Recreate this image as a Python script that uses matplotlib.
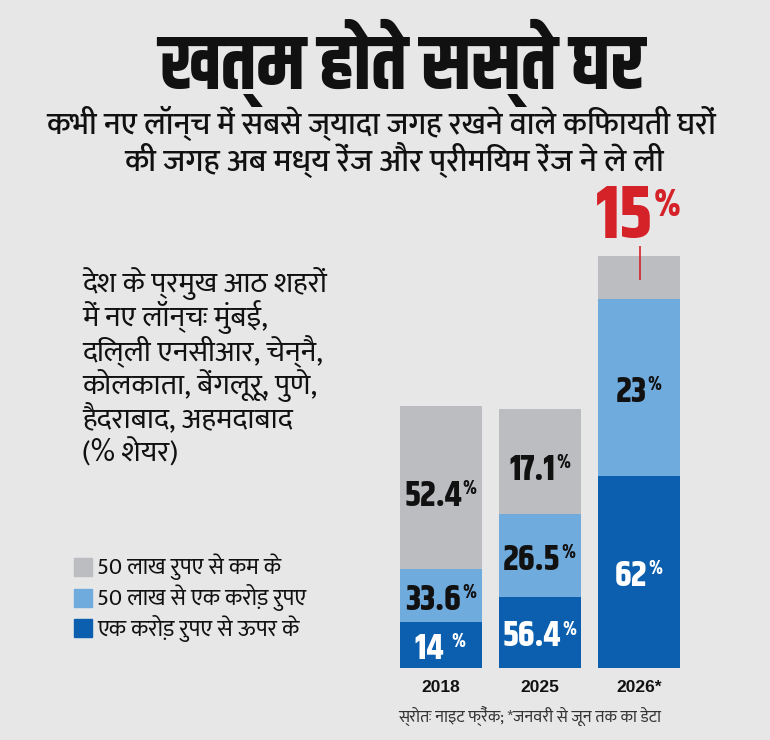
import matplotlib
matplotlib.use('Agg')
import matplotlib.pyplot as plt
from matplotlib import font_manager as fm
from matplotlib.transforms import IdentityTransform
import numpy as np

# ---------------- data ----------------
years = ["2018", "2025", "2026*"]
# visual segment heights as drawn in the graphic (arbitrary units)
high_heights = [46, 71, 192]     # एक करोड़ रुपए से ऊपर के
mid_heights = [53, 83, 177]      # 50 लाख से एक करोड़ रुपए
low_heights = [163, 105, 43]     # 50 लाख रुपए से कम के
# share labels (%)
high_pct = ["14 ", "56.4", "62"]
mid_pct = ["33.6", "26.5", "23"]
low_pct = ["52.4", "17.1", "15"]
legend_labels = ["50 लाख रुपए से कम के", "50 लाख से एक करोड़ रुपए", "एक करोड़ रुपए से ऊपर के"]

title = "खत्म होते सस्ते घर"
subtitle1 = "कभी नए लॉन्च में सबसे ज्यादा जगह रखने वाले किफायती घरों"
subtitle2 = "की जगह अब मध्य रेंज और प्रीमियम रेंज ने ले ली"
note_lines = ["देश के प्रमुख आठ शहरों", "में नए लॉन्चः मुंबई,", "दिल्ली एनसीआर, चेन्नै,",
              "कोलकाता, बेंगलूरू, पुणे,", "हैदराबाद, अहमदाबाद", "(% शेयर)"]
source = "स्रोतः नाइट फ्रैंक; *जनवरी से जून तक का डेटा"

# ---------------- style ----------------
BG = "#e7e7e8"
C_LOW = "#bcbdc0"
C_MID = "#70abde"
C_HIGH = "#0b5fae"
RED = "#d52229"

paths = {}
for f in fm.findSystemFonts():
    paths[f.split('/')[-1]] = f

def fp(name, fallback="Mukta-Regular.ttf"):
    p = paths.get(name) or paths.get(fallback)
    if p:
        return fm.FontProperties(fname=p)
    return fm.FontProperties(family="DejaVu Sans")

F_TITLE = fp("Khand-Bold.ttf")
F_SUB = fp("Mukta-Medium.ttf")
F_NUM = fp("Khand-Bold.ttf")
F_LEG = fp("Mukta-Regular.ttf")
F_NOTE = fp("Mukta-Regular.ttf")
F_SRC = fp("Mukta-Regular.ttf")
F_YEAR = fm.FontProperties(family="Liberation Sans", weight="bold")

W, H = 770, 740
fig = plt.figure(figsize=(7.7, 7.4), dpi=100, facecolor=BG)
renderer = fig.canvas.get_renderer()

def ftext(xpx, ypx, s, prop, size=12, target_w=None, ha='left', va='center', color='#111111'):
    t = fig.text(xpx / W, 1 - ypx / H, s, fontproperties=prop.copy(), ha=ha, va=va, color=color)
    t.set_fontsize(size)
    if target_w:
        bb = t.get_window_extent(renderer)
        t.set_fontsize(size * target_w / bb.width)
    return t

# titles
ftext(402, 63, title, F_TITLE, size=40, target_w=485, ha='center')
ftext(381, 123, subtitle1, F_SUB, size=18, target_w=667, ha='center')
ftext(394, 160, subtitle2, F_SUB, size=18, target_w=535, ha='center')

# note block
first = ftext(82, 283, note_lines[0], F_NOTE, size=15, target_w=244, ha='left')
nsize = first.get_fontsize()
for i, line in enumerate(note_lines[1:], start=1):
    ftext(82, 283 + i * 34.2, line, F_NOTE, size=nsize, ha='left')

# legend
lsize = None
for i, (lab, col) in enumerate(zip(legend_labels, [C_LOW, C_MID, C_HIGH])):
    y = 567 + i * 30.5
    fig.patches.append(plt.Rectangle((74 / W, 1 - (y + 9) / H), 18 / W, 18 / H,
                                     transform=fig.transFigure, color=col, figure=fig))
    if lsize is None:
        t = ftext(97, y, lab, F_LEG, size=13, target_w=185, ha='left')
        lsize = t.get_fontsize()
    else:
        ftext(97, y, lab, F_LEG, size=lsize, ha='left')

# ---------------- bars ----------------
ax = fig.add_axes([371.7 / W, 1 - 668 / H, (708.3 - 371.7) / W, (668 - 240) / H])
ax.set_facecolor('none')
ax.set_xlim(-0.7, 2.7)
ax.set_ylim(0, 428)
ax.axis('off')
x = np.arange(len(years))
hi = np.array(high_heights, float)
mi = np.array(mid_heights, float)
lo = np.array(low_heights, float)
bw = 82 / 99
ax.bar(x, hi, width=bw, color=C_HIGH)
ax.bar(x, mi, bottom=hi, width=bw, color=C_MID)
ax.bar(x, lo, bottom=hi + mi, width=bw, color=C_LOW)

def pct_label(xc, yc, num, color, size, psize):
    t = ax.text(xc, yc, num, ha='center', va='center', fontproperties=F_NUM.copy(), color=color)
    t.set_fontsize(size)
    p = ax.text(xc, yc, '%', ha='left', va='top', fontproperties=F_NUM.copy(), color=color)
    p.set_fontsize(psize)
    pb = p.get_window_extent(renderer)
    shift = pb.width / 2 + 1
    xd, yd = ax.transData.transform((xc, yc))
    t.set_transform(IdentityTransform())
    t.set_position((xd - shift, yd))
    bb = t.get_window_extent(renderer)
    cap_top = yd + size * 0.62 * 100 / 72 / 2 * 1.05
    p.set_transform(IdentityTransform())
    p.set_position((bb.x1 + 1, cap_top + 4))
    return t

callout = 2
for i in range(len(years)):
    pct_label(x[i], hi[i] / 2 - 3, high_pct[i], 'white', 26, 14)
    pct_label(x[i], hi[i] + mi[i] / 2 - 3, mid_pct[i], '#111111', 26, 14)
    if i != callout:
        pct_label(x[i], hi[i] + mi[i] + lo[i] / 2 - 7, low_pct[i], '#111111', 26, 14)
    else:
        top = hi[i] + mi[i] + lo[i]
        ax.plot([x[i] + 0.01, x[i] + 0.01], [top - 24, top + 10], color=RED, lw=1.2, solid_capstyle='butt')
        pct_label(x[i], top + 41, low_pct[i], RED, 54, 27)
    ax.text(x[i], -19, years[i], ha='center', va='center', fontproperties=F_YEAR, fontsize=12.5, color='#111111')

ftext(398, 717, source, F_SRC, size=11, target_w=262, ha='left', color='#333333')

fig.savefig('out.png', dpi=100, facecolor=BG)
